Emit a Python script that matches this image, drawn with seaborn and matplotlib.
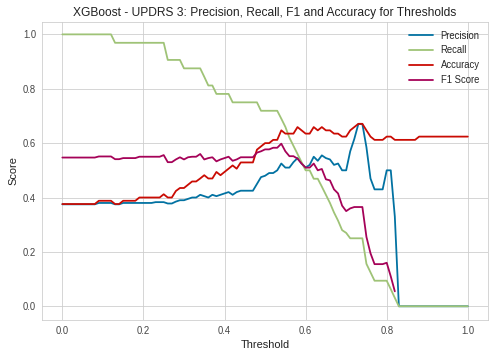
import numpy as np
import pandas as pd
import matplotlib
matplotlib.use("Agg")
import matplotlib.pyplot as plt
import seaborn as sns

# thresholds 0.00 .. 1.00 (step 0.01)
thresholds = np.round(np.arange(101) * 0.01, 2)

precision = ([0.375] * 9 + [0.38] * 4 + [0.375] * 2 + [0.38] * 8 + [0.383] * 3 + [0.378] * 2 +
             [0.385, 0.39, 0.39, 0.395, 0.40, 0.40, 0.41, 0.405, 0.40, 0.41, 0.405, 0.41,
              0.415, 0.42, 0.41, 0.42, 0.425, 0.425, 0.425, 0.425, 0.45, 0.475, 0.48, 0.49,
              0.49, 0.50, 0.525, 0.51, 0.51, 0.53, 0.545, 0.525, 0.51, 0.52, 0.55, 0.535,
              0.555, 0.545, 0.54, 0.52, 0.525, 0.50, 0.50, 0.57, 0.615, 0.67, 0.67, 0.585,
              0.47, 0.43, 0.43, 0.43, 0.50, 0.50, 0.33] + [0.0] * 18)

recall = ([1.0] * 13 + [0.969] * 13 + [0.906] * 4 + [0.875] * 5 +
          [0.844, 0.812, 0.812, 0.781, 0.781, 0.781, 0.781, 0.75, 0.75, 0.75, 0.75, 0.75,
           0.75, 0.75, 0.719, 0.719, 0.719, 0.719, 0.719, 0.69, 0.66, 0.62, 0.59, 0.56,
           0.53, 0.50, 0.50, 0.469, 0.469, 0.44, 0.41, 0.38, 0.345, 0.315, 0.28, 0.27,
           0.25, 0.25, 0.25, 0.25, 0.156, 0.125, 0.094, 0.094, 0.094, 0.094, 0.063, 0.031]
          + [0.0] * 18)

accuracy = ([0.376] * 9 + [0.388] * 4 + [0.376] * 2 + [0.388] * 4 + [0.40] * 6 +
            [0.412, 0.40, 0.40, 0.424, 0.435, 0.435, 0.447, 0.459, 0.459, 0.47, 0.482,
             0.47, 0.47, 0.494, 0.482, 0.494, 0.506, 0.518, 0.506, 0.529, 0.529, 0.529,
             0.529, 0.576, 0.588, 0.60, 0.60, 0.612, 0.612, 0.647, 0.635, 0.635, 0.635,
             0.659, 0.647, 0.635, 0.635, 0.659, 0.647, 0.659, 0.647, 0.647, 0.635, 0.635,
             0.624, 0.624, 0.647, 0.659, 0.671, 0.671, 0.647, 0.624, 0.612, 0.612, 0.612,
             0.624, 0.624, 0.612] + [0.612] * 5 + [0.624] * 13)

f1 = ([0.547] * 9 + [0.551] * 4 + [0.541] * 2 + [0.545] * 4 + [0.55] * 6 +
      [0.556, 0.53, 0.53, 0.54, 0.548, 0.54, 0.548, 0.55, 0.55, 0.56, 0.54, 0.545,
       0.548, 0.533, 0.54, 0.545, 0.55, 0.535, 0.54, 0.548, 0.548, 0.548, 0.548, 0.565,
       0.57, 0.577, 0.577, 0.583, 0.583, 0.598, 0.57, 0.552, 0.552, 0.543, 0.525, 0.51,
       0.51, 0.525, 0.50, 0.505, 0.467, 0.463, 0.43, 0.415, 0.37, 0.35, 0.36, 0.365,
       0.365, 0.365, 0.255, 0.195, 0.155, 0.155, 0.155, 0.16, 0.11, 0.055]
      + [np.nan] * 18)

series = {"Precision": precision, "Recall": recall, "Accuracy": accuracy, "F1 Score": f1}
colors = ["#0272a2", "#9fc377", "#ca0b03", "#a50258"]

sns.set_style("whitegrid", {"axes.edgecolor": "#cccccc", "grid.color": "#cccccc"})
plt.rcParams['font.family'] = ['Liberation Sans', 'DejaVu Sans']

fig, ax = plt.subplots(figsize=(495 / 72, 357 / 72), dpi=72)
fig.subplots_adjust(left=0.085, right=0.986, top=0.938, bottom=0.104)

for (name, vals), c in zip(series.items(), colors):
    df = pd.DataFrame({"Threshold": thresholds, "Score": vals})
    sns.lineplot(data=df, x="Threshold", y="Score", ax=ax, color=c, lw=1.8, label=name)

ax.set_xlim(-0.05, 1.05)
ax.set_ylim(-0.05, 1.045)
ax.set_xticks([0, 0.2, 0.4, 0.6, 0.8, 1.0])
ax.set_yticks([0, 0.2, 0.4, 0.6, 0.8, 1.0])
ax.tick_params(labelsize=9.5, colors="#444444", length=0, pad=6)
ax.set_xlabel("Threshold", fontsize=11, color="#222222")
ax.set_ylabel("Score", fontsize=11, color="#222222")
ax.set_title("XGBoost - UPDRS 3: Precision, Recall, F1 and Accuracy for Thresholds",
             fontsize=12, color="#222222")
ax.legend(loc="upper right", frameon=False, fontsize=9.5, handlelength=2.5)

fig.savefig("out.png", dpi=72)
